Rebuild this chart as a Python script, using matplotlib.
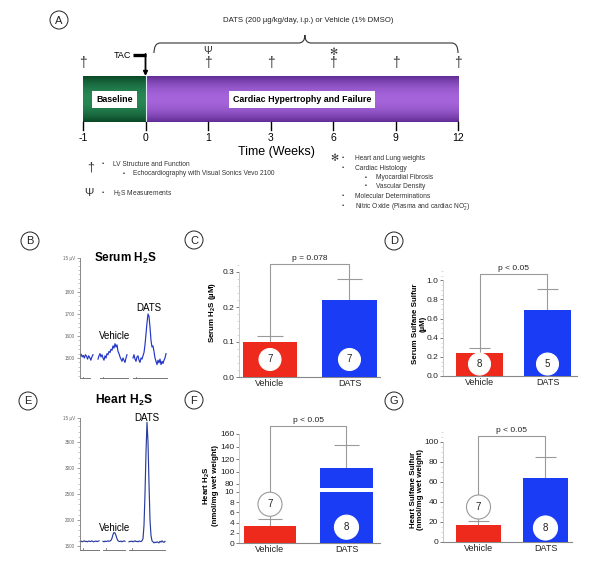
import numpy as np
import matplotlib.pyplot as plt
from matplotlib.path import Path
from matplotlib.patches import PathPatch, Ellipse
from matplotlib.ticker import MultipleLocator

plt.rcParams['font.family'] = ['Liberation Sans', 'DejaVu Sans']
plt.rcParams['mathtext.fontset'] = 'custom'
plt.rcParams['mathtext.rm'] = 'Liberation Sans'
plt.rcParams['mathtext.bf'] = 'Liberation Sans:bold'

# ---------------- data ----------------
# (A) study timeline
weeks = ['-1', '0', '1', '3', '6', '9', '12']
echo_weeks = ['-1', '1', '3', '6', '9', '12']
h2s_weeks = ['1']
terminal_weeks = ['6']
period_names = ['Baseline', 'Cardiac Hypertrophy and Failure']
period_start = ['-1', '0']
period_end = ['0', '12']
treatment = 'DATS (200 µg/kg/day, i.p.) or Vehicle (1% DMSO)'
echo_items = ['LV Structure and Function']
echo_sub = ['Echocardiography with Visual Sonics Vevo 2100']
h2s_items = ['H$_2$S Measurements']
terminal_items = ['Heart and Lung weights', 'Cardiac Histology', 'Myocardial Fibrosis',
                  'Vascular Density', 'Molecular Determinations',
                  'Nitric Oxide (Plasma and cardiac NO$_2^{-}$)']
terminal_level = [0, 0, 1, 1, 0, 0]

# (B) serum chromatogram, 3 injections (signal)
serum_seg1 = [1510, 1518, 1505, 1512, 1500, 1515, 1508, 1495, 1510, 1502, 1490, 1505, 1515]
serum_seg2 = [1495, 1510, 1520, 1505, 1515, 1500, 1490, 1510, 1500, 1520, 1515, 1530, 1525, 1540,
              1535, 1555, 1545, 1565, 1550, 1560, 1530, 1520, 1505, 1495, 1485, 1500, 1490, 1480,
              1500, 1515]
serum_seg3 = [1500, 1515, 1495, 1485, 1505, 1510, 1490, 1480, 1500, 1495, 1510, 1525, 1560, 1610,
              1660, 1700, 1690, 1640, 1580, 1550, 1555, 1530, 1500, 1485, 1470, 1490, 1478, 1495,
              1470, 1485, 1475, 1490, 1500, 1520]
# (E) heart chromatogram
heart_seg1 = [1590, 1585, 1595, 1580, 1590, 1600, 1585, 1590, 1580, 1595, 1590, 1585, 1600, 1590,
              1580, 1590, 1595, 1585, 1590, 1600]
heart_seg2 = [1590, 1580, 1595, 1585, 1590, 1600, 1590, 1595, 1610, 1650, 1720, 1760, 1750, 1700,
              1640, 1600, 1590, 1585, 1595, 1580, 1590, 1600, 1590]
heart_seg3 = [1580, 1590, 1585, 1595, 1580, 1590, 1600, 1585, 1590, 1580, 1595, 1590, 1585, 1600,
              1640, 1900, 2500, 3300, 3880, 3500, 2700, 2000, 1700, 1600, 1580, 1560, 1575, 1565,
              1580, 1570, 1560, 1590, 1575, 1600, 1580, 1570, 1590]

# bar panels
groups = ['Vehicle', 'DATS']
serum_h2s_mean = [0.10, 0.22]
serum_h2s_sem = [0.018, 0.06]
serum_h2s_n = [7, 7]
serum_sulfane_mean = [0.245, 0.685]
serum_sulfane_sem = [0.045, 0.225]
serum_sulfane_n = [8, 5]
heart_h2s_mean = [3.3, 105]
heart_h2s_sem = [1.5, 37]
heart_h2s_n = [7, 8]
heart_sulfane_mean = [17.5, 64.5]
heart_sulfane_sem = [3.8, 20.5]
heart_sulfane_n = [7, 8]

# ---------------- figure ----------------
W, H = 600, 570
fig = plt.figure(figsize=(6, 5.7), dpi=100)


def box(x0, y0, x1, y1):
    return [x0 / W, 1 - y1 / H, (x1 - x0) / W, (y1 - y0) / H]


def ftext(x, y, s, **kw):
    kw.setdefault('ha', 'center')
    kw.setdefault('va', 'center')
    return fig.text(x / W, 1 - y / H, s, **kw)


def panel_letter(x, y, s):
    fig.add_artist(Ellipse((x / W, 1 - y / H), 18 / W, 18 / H, transform=fig.transFigure,
                           fc='white', ec='#222', lw=0.7))
    ftext(x, y + 0.5, s, fontsize=8, color='#222')


# ---- (A) timeline ----
axA = fig.add_axes([0, 1 - 215 / H, 1, 215 / H])
pos = {w: i for i, w in enumerate(weeks)}
bar_top, bar_bot = 76, 122
edge_cols = [np.array([10, 72, 38]), np.array([98, 46, 150])]
mid_cols = [np.array([40, 135, 85]), np.array([165, 100, 218])]
t = np.linspace(-1, 1, 60)[:, None]
for name, a, b, ec, mc in zip(period_names, period_start, period_end, edge_cols, mid_cols):
    grad = (ec + (mc - ec) * (1 - t ** 2)) / 255.0
    axA.imshow(grad.reshape(60, 1, 3), extent=(pos[a], pos[b], bar_bot, bar_top),
               aspect='auto', interpolation='bilinear', zorder=1)
    axA.text((pos[a] + pos[b]) / 2, (bar_top + bar_bot) / 2 + 0.5, name, ha='center', va='center',
             fontsize=6.4, fontweight='bold',
             bbox=dict(boxstyle='square,pad=0.45', fc='white', ec='none'), zorder=3)
axA.plot([pos['0'], pos['0']], [bar_top, bar_bot], color='#dfe8f5', lw=0.8, zorder=2)

for w in weeks:
    axA.plot([pos[w], pos[w]], [bar_bot, bar_bot + 8], color='black', lw=1.0)
    axA.text(pos[w], 138, w, ha='center', va='center', fontsize=7.5)
axA.text(3.09, 152, 'Time (Weeks)', ha='center', va='center', fontsize=9)

for w in echo_weeks:
    axA.text(pos[w], 63, '†', ha='center', va='center', fontsize=10, color='#333')
for w in h2s_weeks:
    axA.text(pos[w], 51, 'Ψ', ha='center', va='center', fontsize=7.5, color='#333')
for w in terminal_weeks:
    axA.text(pos[w], 52, '✻', ha='center', va='center', fontsize=7, color='#333')

# TAC arrow
axA.text(0.77, 55, 'TAC', ha='right', va='center', fontsize=6.5)
axA.plot([0.8, pos['0']], [55, 55], color='black', lw=2.4, solid_capstyle='butt')
axA.annotate('', xy=(pos['0'], bar_top), xytext=(pos['0'], 54),
             arrowprops=dict(arrowstyle='-|>', color='black', lw=1.3, mutation_scale=6,
                             shrinkA=0, shrinkB=0))

# brace over treatment period
x0, x1, xm = 1.136, pos['12'], 3.55
yb, yt, ye = 43, 35, 53
r = 0.1
verts = [(x0, ye), (x0, yb), (x0 + r, yb), (xm - r, yb), (xm, yb), (xm, yt),
         (xm, yb), (xm + r, yb), (x1 - r, yb), (x1, yb), (x1, ye)]
codes = [Path.MOVETO, Path.CURVE3, Path.CURVE3, Path.LINETO, Path.CURVE3, Path.CURVE3,
         Path.CURVE3, Path.CURVE3, Path.LINETO, Path.CURVE3, Path.CURVE3]
axA.add_patch(PathPatch(Path(verts, codes), fc='none', ec='#333', lw=0.8))
axA.text(xm + 0.05, 21, treatment, ha='center', va='center', fontsize=5.6, color='#222')

axA.set_xlim(-83 / 62.5, (W - 83) / 62.5)
axA.set_ylim(215, 0)
axA.axis('off')

panel_letter(59, 20, 'A')

# legend under the timeline
lc = '#333'
ftext(91, 167, '†', fontsize=9, color=lc)
for s in echo_items:
    ftext(103, 164, '•', fontsize=4.5, color=lc)
    ftext(113, 164, s, ha='left', fontsize=4.8, color=lc)
for s in echo_sub:
    ftext(124, 173, '▪', fontsize=4, color=lc)
    ftext(133, 173, s, ha='left', fontsize=4.8, color=lc)
ftext(89, 193, 'Ψ', fontsize=8, color=lc)
for s in h2s_items:
    ftext(103, 193, '•', fontsize=4.5, color=lc)
    ftext(113, 193.5, s, ha='left', fontsize=4.8, color=lc)
ftext(334, 158, '✻', fontsize=7, color=lc)
ys = [158, 168, 177, 186, 196, 206]
for s, lev, y in zip(terminal_items, terminal_level, ys):
    if lev == 0:
        ftext(343, y, '•', fontsize=4.5, color=lc)
        ftext(355, y, s, ha='left', fontsize=4.8, color=lc)
    else:
        ftext(366, y, '▪', fontsize=4, color=lc)
        ftext(376, y, s, ha='left', fontsize=4.8, color=lc)


# ---- chromatograms (B, E) ----
def chromatogram(bx, segs, spans, base_lines, ylim, ticks, tick_labels, minor, color):
    ax = fig.add_axes(box(*bx))
    for vals, (a, b) in zip(segs, spans):
        ax.plot(np.linspace(a, b, len(vals)), vals, color=color, lw=0.85)
    for a, b in base_lines:
        ax.plot([a, b], [ylim[0], ylim[0]], color='#777', lw=0.7, clip_on=False)
        ax.plot([a + 3, a + 3], [ylim[0], ylim[0] + (ylim[1] - ylim[0]) * 0.012], color='#777',
                lw=0.6, clip_on=False)
    ax.set_xlim(0, 90)
    ax.set_ylim(*ylim)
    ax.set_xticks([])
    ax.set_yticks(ticks, tick_labels)
    ax.yaxis.set_minor_locator(MultipleLocator(minor))
    ax.tick_params(axis='y', which='major', length=2, width=0.5, color='#777', labelsize=3.3,
                   labelcolor='#666', pad=1.5)
    ax.tick_params(axis='y', which='minor', length=1.1, width=0.4, color='#999')
    for sp in ['top', 'right', 'bottom']:
        ax.spines[sp].set_visible(False)
    ax.spines['left'].set_color('#777')
    ax.spines['left'].set_linewidth(0.6)
    return ax


chromatogram((80, 258, 170, 378), [serum_seg1, serum_seg2, serum_seg3],
             [(0, 13), (18, 47), (53, 86)], [(0, 10), (20, 48), (53, 87)],
             (1409, 1955), [1500, 1600, 1700, 1800, 1955],
             ['1500', '1600', '1700', '1800', '15 µV'], 20, '#2336c8')
panel_letter(30, 241, 'B')
ftext(125, 258, 'Serum H$_\\mathbf{2}$S', fontsize=8.5, fontweight='bold')
ftext(115, 336, 'Vehicle', fontsize=7)
ftext(149, 308, 'DATS', fontsize=7)

chromatogram((80, 418, 170, 550), [heart_seg1, heart_seg2, heart_seg3],
             [(-1, 19), (23, 45), (49, 85)], [(0, 19), (23, 45), (49, 85)],
             (1423, 3962), [1500, 2000, 2500, 3000, 3500, 3962],
             ['1500', '2000', '2500', '3000', '3500', '15 µV'], 100, '#2a3d9e')
panel_letter(28, 401, 'E')
ftext(124, 400, 'Heart H$_\\mathbf{2}$S', fontsize=8.7, fontweight='bold')
ftext(115, 528, 'Vehicle', fontsize=7)
ftext(147, 418, 'DATS', fontsize=7)

# ---- bar panels (C, D, F, G) ----
bar_colors = ['#ee2a1c', '#1a3cf4']
grey = '#9a9a9a'


def bar_panel(bx, xl, yl, means, sems, ns, n_y, ring, yticks, fmt, p_text, p_y,
              width, dot_s, scale=None, minor=None):
    ax = fig.add_axes(box(*bx))
    if scale is not None:
        ax.set_yscale('function', functions=scale)
    x = np.arange(len(groups))
    means = np.array(means)
    tops = means + np.array(sems)
    cw = 0.16
    ax.vlines(x, means, tops, color=grey, lw=0.8, zorder=2)
    ax.hlines(tops, x - cw, x + cw, color=grey, lw=0.8, zorder=2)
    ax.bar(x, means, width, color=bar_colors, zorder=3)
    ax.plot([x[0], x[0], x[1], x[1]], [tops[0], p_y, p_y, tops[1]], color=grey, lw=0.8,
            zorder=1, clip_on=False)
    ax.annotate(p_text, xy=(x.mean(), p_y), xytext=(0, 1.2), textcoords='offset points',
                ha='center', va='bottom', fontsize=6, color='#222', annotation_clip=False)
    ax.scatter(x, n_y, s=dot_s, c='white', edgecolors=[grey if rr else 'white' for rr in ring],
               linewidths=0.8, zorder=5, clip_on=False)
    for xi, yi, n in zip(x, n_y, ns):
        ax.text(xi, yi, str(n), ha='center', va='center', fontsize=7, color='#222', zorder=6)
    ax.set_xlim(*xl)
    ax.set_ylim(*yl)
    ax.set_xticks(x, groups)
    ax.set_yticks(yticks, [fmt.format(v) for v in yticks])
    if minor is not None:
        ax.yaxis.set_minor_locator(MultipleLocator(minor))
    ax.tick_params(axis='y', which='major', length=2.5, width=0.6, color='#666', labelsize=6,
                   labelcolor='#222', pad=1)
    ax.tick_params(axis='y', which='minor', length=1.3, width=0.4, color='#bbb')
    ax.tick_params(axis='x', length=0, labelsize=6.5, pad=1.5, labelcolor='#222')
    ax.spines['top'].set_visible(False)
    ax.spines['right'].set_visible(False)
    ax.spines['left'].set_color('#c8c8c8')
    ax.spines['left'].set_linewidth(0.7)
    ax.spines['left'].set_bounds(0, yticks[-1])
    ax.spines['bottom'].set_color('#888')
    ax.spines['bottom'].set_linewidth(0.8)
    return ax


# C
bar_panel((239, 261.5, 380, 377), (-0.39, 1.384), (0, 0.33), serum_h2s_mean, serum_h2s_sem,
          serum_h2s_n, [0.05, 0.05], [False, False], [0, 0.1, 0.2, 0.3], '{:.1f}',
          'p = 0.078', 0.323, 0.69, 250, minor=0.02)
panel_letter(194, 240, 'C')
ftext(213, 312, 'Serum H$_\\mathbf{2}$S (µM)', rotation=90, fontsize=5.7, fontweight='bold')

# D
bar_panel((443, 268.8, 577, 376), (-0.537, 1.434), (0, 1.12), serum_sulfane_mean,
          serum_sulfane_sem, serum_sulfane_n, [0.125, 0.125], [False, False],
          [0, 0.2, 0.4, 0.6, 0.8, 1.0], '{:.1f}', 'p < 0.05', 1.07, 0.68, 250, minor=0.05)
panel_letter(394, 241, 'D')
ftext(419, 324, 'Serum Sulfane Sulfur\n(µM)', rotation=90, fontsize=5.7, fontweight='bold',
      linespacing=1.1)

# F (broken axis: 0-10 then 80-160)
brk_v = [0, 10, 80, 1000]
brk_p = [0, 51, 59, 59 + 920 * 0.625]


def fwd(v):
    return np.interp(v, brk_v, brk_p)


def inv(p):
    return np.interp(p, brk_p, brk_v)


axF = bar_panel((239, 422.75, 380, 543), (-0.405, 1.438), (0, 178), heart_h2s_mean,
                heart_h2s_sem, heart_h2s_n, [7.6, 3.1], [True, False],
                [0, 2, 4, 6, 8, 10, 80, 100, 120, 140, 160], '{:d}', 'p < 0.05', 173, 0.69, 300,
                scale=(fwd, inv))
axF.fill_between([1 - 0.4, 1 + 0.4], 10.2, 45, color='white', lw=0, zorder=4)
panel_letter(194, 400, 'F')
ftext(210, 486, 'Heart H$_\\mathbf{2}$S\n(nmol/mg wet weight)', rotation=90, fontsize=5.7,
      fontweight='bold', linespacing=1.1)

# G
bar_panel((443, 432, 572, 542), (-0.53, 1.396), (0, 110), heart_sulfane_mean, heart_sulfane_sem,
          heart_sulfane_n, [35, 14], [True, False], [0, 20, 40, 60, 80, 100], '{:d}',
          'p < 0.05', 106, 0.67, 300, minor=5)
panel_letter(394, 401, 'G')
ftext(417, 490, 'Heart Sulfane Sulfur\n(nmol/mg wet weight)', rotation=90, fontsize=5.7,
      fontweight='bold', linespacing=1.1)

fig.savefig('out.png', dpi=100, facecolor='white')
